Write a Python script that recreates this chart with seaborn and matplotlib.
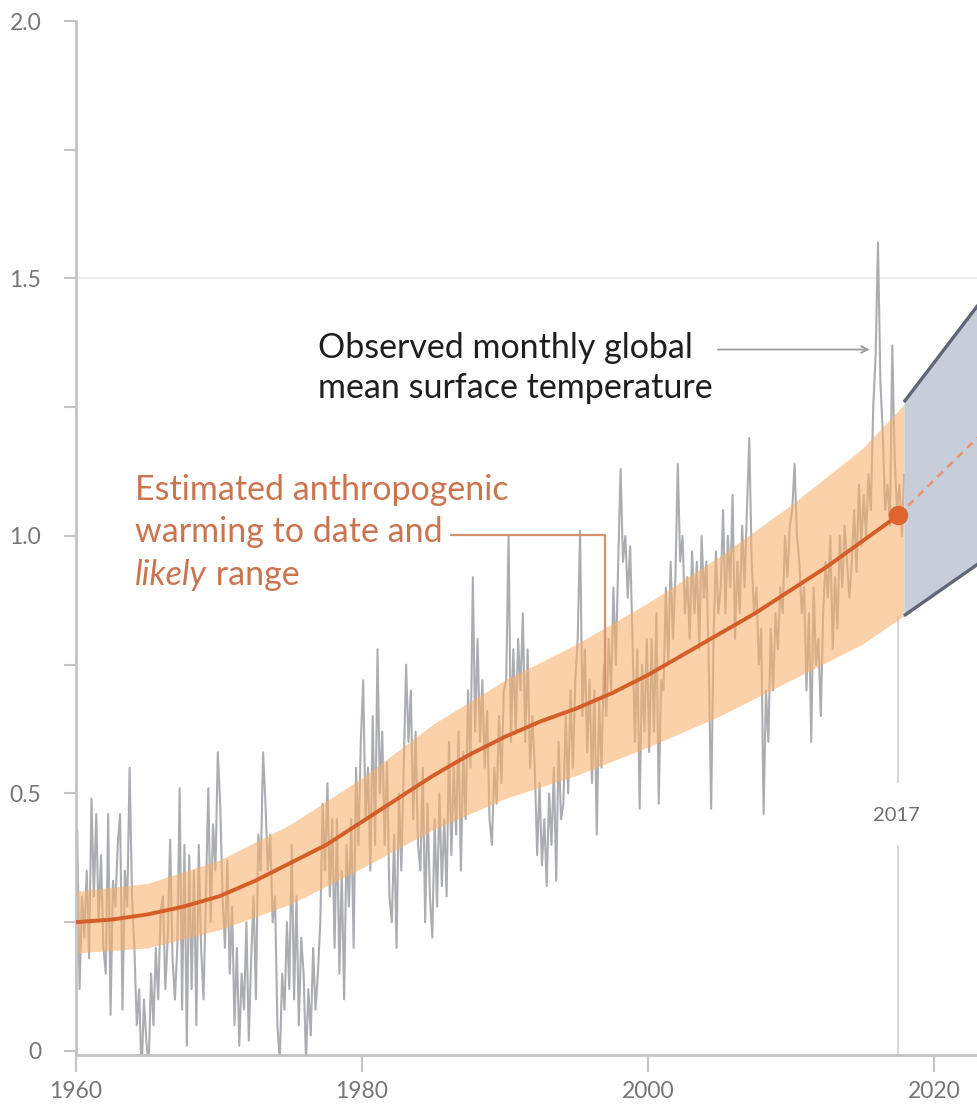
import matplotlib
matplotlib.use("Agg")
import matplotlib.pyplot as plt
from matplotlib.ticker import FixedLocator, NullFormatter, FixedFormatter
import numpy as np
import pandas as pd
import seaborn as sns

# ---------------- data ----------------
# Observed global mean surface temperature (°C, rel. 1850-1900), six readings per year
obs_years = list(range(1960, 2018))
obs_values = [
    [0.43, 0.12, 0.30, 0.22, 0.35, 0.18],  # 1960
    [0.49, 0.30, 0.46, 0.25, 0.38, 0.20],
    [0.15, 0.46, 0.07, 0.33, 0.28, 0.40],
    [0.46, 0.08, 0.35, 0.28, 0.55, 0.30],
    [0.20, 0.05, 0.12, -0.05, 0.10, 0.02],
    [-0.03, 0.15, 0.05, 0.20, 0.10, 0.27],  # 1965
    [0.30, 0.12, 0.22, 0.41, 0.18, 0.10],
    [0.20, 0.51, 0.08, 0.40, 0.01, 0.38],
    [0.12, 0.35, 0.05, 0.40, 0.20, 0.10],
    [0.30, 0.51, 0.25, 0.44, 0.35, 0.58],
    [0.48, 0.30, 0.20, 0.37, 0.15, 0.28],  # 1970
    [0.05, 0.20, 0.01, 0.15, 0.08, 0.25],
    [0.02, 0.18, 0.30, 0.10, 0.42, 0.35],
    [0.58, 0.48, 0.35, 0.42, 0.25, 0.30],
    [0.05, -0.02, 0.15, 0.08, 0.25, 0.12],
    [0.40, 0.10, 0.30, 0.05, 0.22, 0.15],  # 1975
    [-0.02, 0.12, 0.03, 0.20, 0.08, 0.15],
    [0.25, 0.48, 0.35, 0.52, 0.30, 0.45],
    [0.20, 0.45, 0.15, 0.35, 0.10, 0.40],
    [0.28, 0.45, 0.20, 0.55, 0.40, 0.60],
    [0.72, 0.45, 0.55, 0.35, 0.65, 0.40],  # 1980
    [0.78, 0.50, 0.62, 0.40, 0.56, 0.30],
    [0.25, 0.42, 0.20, 0.50, 0.35, 0.55],
    [0.75, 0.60, 0.70, 0.45, 0.62, 0.40],
    [0.35, 0.55, 0.25, 0.48, 0.30, 0.22],
    [0.45, 0.28, 0.50, 0.32, 0.45, 0.30],  # 1985
    [0.60, 0.38, 0.55, 0.42, 0.62, 0.35],
    [0.58, 0.45, 0.70, 0.55, 0.92, 0.62],
    [0.80, 0.60, 0.72, 0.55, 0.66, 0.45],
    [0.40, 0.55, 0.48, 0.65, 0.52, 0.70],
    [0.72, 1.00, 0.60, 0.78, 0.62, 0.80],  # 1990
    [0.70, 0.85, 0.60, 0.78, 0.55, 0.65],
    [0.55, 0.38, 0.52, 0.36, 0.45, 0.32],
    [0.50, 0.40, 0.55, 0.33, 0.60, 0.45],
    [0.48, 0.65, 0.50, 0.70, 0.55, 0.72],
    [0.80, 1.01, 0.65, 0.78, 0.58, 0.72],  # 1995
    [0.52, 0.70, 0.42, 0.68, 0.55, 0.75],
    [0.65, 0.80, 0.70, 0.90, 0.75, 0.95],
    [1.13, 0.95, 1.00, 0.88, 0.98, 0.80],
    [0.60, 0.78, 0.47, 0.75, 0.62, 0.80],
    [0.58, 0.80, 0.62, 0.85, 0.48, 0.72],  # 2000
    [0.70, 0.90, 0.75, 0.95, 0.80, 0.92],
    [1.14, 0.95, 1.00, 0.85, 0.92, 0.80],
    [0.97, 0.85, 0.95, 0.78, 1.00, 0.88],
    [0.95, 0.75, 0.47, 0.80, 0.97, 0.85],
    [0.90, 1.05, 0.85, 1.00, 0.90, 1.08],  # 2005
    [0.80, 0.95, 0.85, 1.02, 0.90, 1.05],
    [1.19, 0.95, 0.85, 0.90, 0.75, 0.82],
    [0.46, 0.70, 0.60, 0.82, 0.70, 0.85],
    [0.78, 0.90, 0.85, 1.00, 0.92, 1.02],
    [1.05, 1.14, 1.00, 0.95, 0.85, 0.90],  # 2010
    [0.70, 0.85, 0.60, 0.90, 0.75, 0.80],
    [0.65, 0.85, 0.95, 0.88, 1.00, 0.78],
    [0.92, 0.82, 1.00, 0.90, 1.02, 0.95],
    [0.88, 0.95, 1.05, 0.93, 1.10, 0.98],
    [1.08, 1.00, 1.12, 1.05, 1.25, 1.35],  # 2015
    [1.57, 1.30, 1.20, 1.05, 1.10, 1.02],
    [1.37, 1.15, 1.05, 1.10, 1.00, 1.12],
]

# Estimated anthropogenic warming (central estimate)
anthro_years = [1960, 1962.5, 1965, 1967.5, 1970, 1972.5, 1975, 1977.5, 1980, 1982.5,
                1985, 1987.5, 1990, 1992.5, 1995, 1997.5, 2000, 2002.5, 2005, 2007.5,
                2010, 2012.5, 2015, 2017.5]
anthro_central = [0.25, 0.255, 0.265, 0.28, 0.30, 0.33, 0.365, 0.40, 0.445, 0.49,
                  0.535, 0.575, 0.61, 0.64, 0.665, 0.695, 0.73, 0.77, 0.81, 0.85,
                  0.895, 0.94, 0.99, 1.04]

# likely range
band_years = [1960, 1965, 1970, 1975, 1980, 1985, 1990, 1995, 2000, 2005, 2010, 2015, 2017.9]
band_lower = [0.19, 0.20, 0.235, 0.285, 0.355, 0.43, 0.49, 0.535, 0.59, 0.65, 0.72, 0.79, 0.845]
band_upper = [0.31, 0.325, 0.37, 0.44, 0.53, 0.635, 0.72, 0.79, 0.87, 0.96, 1.06, 1.17, 1.255]

# projection cone
proj_years = [2017.9, 2030]
proj_lower = [0.845, 1.08]
proj_upper = [1.26, 1.70]
proj_central_years = [2017.5, 2030]
proj_central = [1.04, 1.38]

marker_year = 2017.5
marker_label = "2017"

x_ticks = [1960, 1980, 2000, 2020]
y_major = [0, 0.5, 1.0, 1.5, 2.0]
y_major_labels = ["0", "0.5", "1.0", "1.5", "2.0"]
y_minor = [0.25, 0.75, 1.25, 1.75]

# ---------------- figure ----------------
sns.set_theme(style="white")
plt.rcParams["font.family"] = ["Lato", "DejaVu Sans"]

W, H = 977, 1105
fig = plt.figure(figsize=(W / 100, H / 100), dpi=100)
ax = fig.add_axes([76 / W, 50 / H, (W - 76) / W, 1034 / H])

x_obs = [y + (i + 0.5) / 6 for y, row in zip(obs_years, obs_values) for i in range(len(row))]
y_obs = [v for row in obs_values for v in row]
df_obs = pd.DataFrame({"year": x_obs, "gmst": y_obs})

ax.axhline(1.5, color="#ececec", lw=1.6, zorder=0)

sns.lineplot(data=df_obs, x="year", y="gmst", color="#abadb1", lw=1.5, ax=ax, zorder=1)

ax.fill_between(band_years, band_lower, band_upper, color="#f8b06a", alpha=0.58, lw=0, zorder=2)

# projection cone
ax.fill_between(proj_years, proj_lower, proj_upper, color="#c7cdd9", lw=0, zorder=2)
ax.plot(proj_years, proj_upper, color="#5f6676", lw=2.4, zorder=3, solid_capstyle="butt")
ax.plot(proj_years, proj_lower, color="#5f6676", lw=2.4, zorder=3, solid_capstyle="butt")
ax.plot(proj_central_years, proj_central, color="#e8936c", lw=1.8, ls=(0, (3, 2.5)), zorder=3)

sns.lineplot(x=anthro_years, y=anthro_central, color="#d45d28", lw=2.8, ax=ax, zorder=4)
ax.plot([marker_year], [anthro_central[-1]], "o", ms=13, color="#e0642f", zorder=5)

# 2017 marker line with gap for label
ax.vlines(marker_year, -0.01, 0.40, color="#d6d6d6", lw=1.4, zorder=0.5)
ax.vlines(marker_year, 0.52, band_lower[-1], color="#d6d6d6", lw=1.4, zorder=0.5)
ax.text(marker_year - 0.1, 0.458, marker_label, ha="center", va="center",
        fontsize=14.5, color="#6e6e6e")

# axes styling
ax.set_xlim(1960, 1960 + (W - 76) / 14.3)
ax.set_ylim(-0.008, 2.0)
ax.set_xlabel("")
ax.set_ylabel("")
ax.xaxis.set_major_locator(FixedLocator(x_ticks))
ax.yaxis.set_major_locator(FixedLocator(y_major))
ax.yaxis.set_major_formatter(FixedFormatter(y_major_labels))
ax.yaxis.set_minor_locator(FixedLocator(y_minor))
ax.yaxis.set_minor_formatter(NullFormatter())
for s in ["top", "right"]:
    ax.spines[s].set_visible(False)
for s in ["left", "bottom"]:
    ax.spines[s].set_color("#c4c4c4")
    ax.spines[s].set_linewidth(2.0)
ax.spines["left"].set_bounds(-0.008, 2.0)
ax.tick_params(axis="y", which="both", direction="out", length=9, width=1.5,
               color="#c4c4c4", labelsize=16.5, labelcolor="#767676", pad=16, left=True)
ax.tick_params(axis="x", which="major", direction="out", length=12, width=1.5,
               color="#c4c4c4", labelsize=16.5, labelcolor="#767676", pad=7, bottom=True)
ax.grid(False)

# annotations
fs = 24.5
fig.text(318 / W, 1 - 358 / H, "Observed monthly global", ha="left", va="baseline",
         fontsize=fs, color="#1e1e1e")
fig.text(318 / W, 1 - 398 / H, "mean surface temperature", ha="left", va="baseline",
         fontsize=fs, color="#1e1e1e")
ax.annotate("", xy=(2015.5, 1.362), xytext=(2004.9, 1.362),
            arrowprops=dict(arrowstyle="->", color="#9c9c9c", lw=1.3,
                            shrinkA=0, shrinkB=0, mutation_scale=12), zorder=6)

orange = "#cb7550"
fig.text(135 / W, 1 - 500 / H, "Estimated anthropogenic", ha="left", va="baseline",
         fontsize=fs, color=orange)
fig.text(135 / W, 1 - 542 / H, "warming to date and", ha="left", va="baseline",
         fontsize=fs, color=orange)
t_likely = fig.text(135 / W, 1 - 585 / H, "likely", ha="left", va="baseline",
                    fontsize=fs, color=orange, style="italic")
fig.canvas.draw()
bb = t_likely.get_window_extent()
fig.text(bb.x1 / W, 1 - 585 / H, " range", ha="left", va="baseline",
         fontsize=fs, color=orange)
ax.plot([1986.2, 1997.0, 1997.0], [1.002, 1.002, 0.70], color="#d9906c", lw=1.6, zorder=6)

fig.savefig("out.png", dpi=100)
